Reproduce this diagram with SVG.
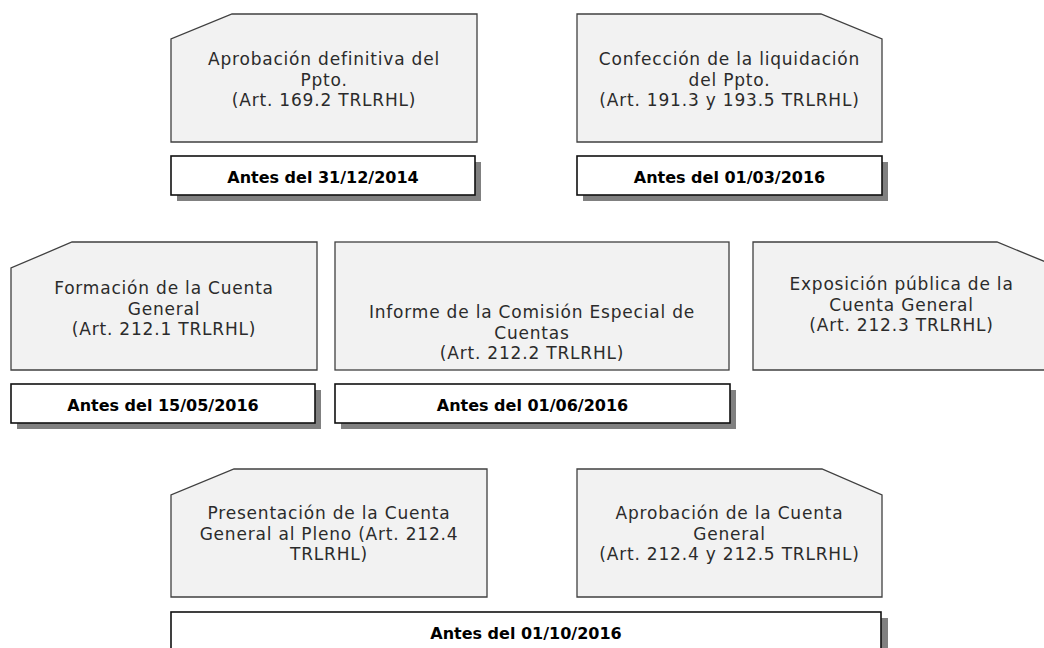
<svg xmlns="http://www.w3.org/2000/svg" width="1044" height="648" viewBox="0 0 1044 648">
<style>
.node{fill:#f2f2f2;stroke:#404040;stroke-width:1.3}
.date{fill:#ffffff;stroke:#111;stroke-width:1.6}
.shadow{fill:#808080}
.t{font-family:"DejaVu Sans",sans-serif;font-size:17px;letter-spacing:0.8px;fill:#2b2b2b;text-anchor:middle}
.d{font-family:"DejaVu Sans",sans-serif;font-weight:bold;font-size:16px;fill:#000;text-anchor:middle}
</style>
<rect width="1044" height="648" fill="#fff"/>
<g id="connectors"/>
<g id="n1">
<polygon class="node" points="232,14 477,14 477,142 171,142 171,39"/>
<text class="t"><tspan x="324" y="65">Aprobación definitiva del</tspan><tspan x="324" y="85.5">Ppto.</tspan><tspan x="324" y="106">(Art. 169.2 TRLRHL)</tspan></text>
</g>
<g id="d1">
<rect class="shadow" x="177" y="162" width="304" height="39"/>
<rect class="date" x="171" y="156" width="304" height="39"/>
<text class="d" x="323" y="183">Antes del 31/12/2014</text>
</g>
<g id="n2">
<polygon class="node" points="577,14 821,14 882,39 882,142 577,142"/>
<text class="t"><tspan x="729.5" y="65">Confección de la liquidación</tspan><tspan x="729.5" y="85.5">del Ppto.</tspan><tspan x="729.5" y="106">(Art. 191.3 y 193.5 TRLRHL)</tspan></text>
</g>
<g id="d2">
<rect class="shadow" x="583" y="162" width="305" height="39"/>
<rect class="date" x="577" y="156" width="305" height="39"/>
<text class="d" x="729.5" y="183">Antes del 01/03/2016</text>
</g>
<g id="n3">
<polygon class="node" points="72,242 317,242 317,370 11,370 11,268"/>
<text class="t"><tspan x="164" y="294">Formación de la Cuenta</tspan><tspan x="164" y="314.5">General</tspan><tspan x="164" y="335">(Art. 212.1 TRLRHL)</tspan></text>
</g>
<g id="d3">
<rect class="shadow" x="17" y="390" width="304" height="39"/>
<rect class="date" x="11" y="384" width="304" height="39"/>
<text class="d" x="163" y="411">Antes del 15/05/2016</text>
</g>
<g id="n4">
<rect class="node" x="335" y="242" width="394" height="128"/>
<text class="t"><tspan x="532" y="318">Informe de la Comisión Especial de</tspan><tspan x="532" y="338.5">Cuentas</tspan><tspan x="532" y="359">(Art. 212.2 TRLRHL)</tspan></text>
</g>
<g id="d4">
<rect class="shadow" x="341" y="390" width="395" height="39"/>
<rect class="date" x="335" y="384" width="395" height="39"/>
<text class="d" x="532.5" y="411">Antes del 01/06/2016</text>
</g>
<g id="n5">
<polygon class="node" points="753,242 997,242 1058,267 1058,370 753,370"/>
<text class="t"><tspan x="901.5" y="290">Exposición pública de la</tspan><tspan x="901.5" y="310.5">Cuenta General</tspan><tspan x="901.5" y="331">(Art. 212.3 TRLRHL)</tspan></text>
</g>
<g id="n6">
<polygon class="node" points="234,469 487,469 487,597 171,597 171,495"/>
<text class="t"><tspan x="329" y="519">Presentación de la Cuenta</tspan><tspan x="329" y="539.5">General al Pleno (Art. 212.4</tspan><tspan x="329" y="560">TRLRHL)</tspan></text>
</g>
<g id="n7">
<polygon class="node" points="577,469 822,469 882,495 882,597 577,597"/>
<text class="t"><tspan x="729.5" y="519">Aprobación de la Cuenta</tspan><tspan x="729.5" y="539.5">General</tspan><tspan x="729.5" y="560">(Art. 212.4 y 212.5 TRLRHL)</tspan></text>
</g>
<g id="d5">
<rect class="shadow" x="177" y="618" width="711" height="40"/>
<rect class="date" x="171" y="612" width="710" height="40"/>
<text class="d" x="526" y="639">Antes del 01/10/2016</text>
</g>
</svg>
